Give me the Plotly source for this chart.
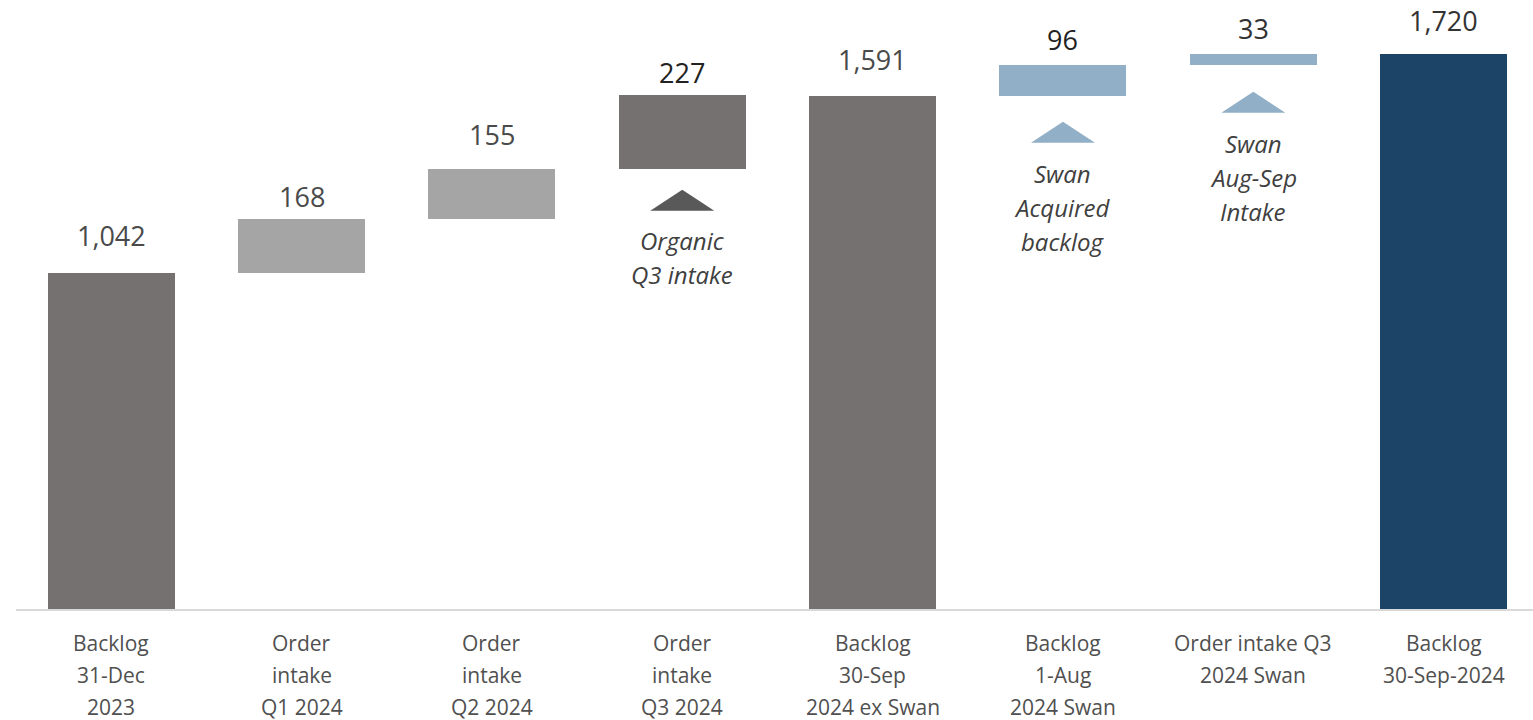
import plotly.graph_objects as go

# ---------------- data ----------------
categories = [
    "Backlog<br>31-Dec<br>2023",
    "Order<br>intake<br>Q1 2024",
    "Order<br>intake<br>Q2 2024",
    "Order<br>intake<br>Q3 2024",
    "Backlog<br>30-Sep<br>2024 ex Swan",
    "Backlog<br>1-Aug<br>2024 Swan",
    "Order intake Q3<br>2024 Swan",
    "Backlog<br>30-Sep-2024",
]
values = [1042, 168, 155, 227, 1591, 96, 33, 1720]
kinds = ["total", "delta", "delta", "delta", "total", "delta", "delta", "total"]
value_labels = ["1,042", "168", "155", "227", "1,591", "96", "33", "1,720"]

notes_index = [3, 5, 6]
notes_text = [
    ["Organic", "Q3 intake"],
    ["Swan", "Acquired", "backlog"],
    ["Swan", "Aug-Sep", "Intake"],
]

# ---------------- style ----------------
bar_colors = ["#757170", "#A5A5A5", "#A5A5A5", "#767171",
              "#757170", "#91AFC6", "#91AFC6", "#1B4466"]
label_colors = ["#4a4a4a", "#4a4a4a", "#4a4a4a", "#222222",
                "#4a4a4a", "#222222", "#333333", "#333333"]
label_gap = [37, 22, 34, 23, 36, 25, 26, 34]       # px from bar top to label centre
note_colors = ["#595959", "#91AFC6", "#91AFC6"]
note_tri_gap = [21, 26, 27]                          # px from bar bottom to triangle apex
note_text_gap = [72, 78, 79]                         # px from bar bottom to first text line
note_line_step = 34
cat_first = 34
cat_step = 32

W, H = 1533, 720
ML, MR, MT, MB = 16, 0, 0, 111
step_px = 190.36
x_max = -0.5 + (W - ML - MR) / step_px
y_max = 1888

# compute bases through cumulative running total
bases = []
running = 0
for v, k in zip(values, kinds):
    if k == "total":
        bases.append(0)
        running = v
    else:
        bases.append(running)
        running += v
heights = values[:]
tops = [b + h for b, h in zip(bases, heights)]

xs = list(range(len(categories)))

fig = go.Figure()
fig.add_trace(go.Bar(
    x=xs, y=heights, base=bases,
    marker=dict(color=bar_colors, line=dict(width=0)),
    width=0.667,
    hoverinfo="skip",
))

annotations = []
# value labels
for i in xs:
    annotations.append(dict(
        x=i, y=tops[i], xref="x", yref="y",
        text=value_labels[i], showarrow=False,
        yanchor="middle", yshift=label_gap[i],
        font=dict(family="Open Sans", size=27, color=label_colors[i]),
    ))

# category labels (line by line)
for i, cat in enumerate(categories):
    for j, line in enumerate(cat.split("<br>")):
        annotations.append(dict(
            x=i, y=0, xref="x", yref="y",
            text=line, showarrow=False,
            yanchor="middle", yshift=-(cat_first + cat_step * j),
            font=dict(family="Open Sans", size=21, color="#505050"),
        ))

shapes = []
for n, idx in enumerate(notes_index):
    g = note_tri_gap[n]
    shapes.append(dict(
        type="path",
        xref="x", yref="y",
        xsizemode="pixel", ysizemode="pixel",
        xanchor=idx, yanchor=bases[idx],
        path=f"M -32,{-(g + 21)} L 32,{-(g + 21)} L 0,{-g} Z",
        fillcolor=note_colors[n], line=dict(width=0),
    ))
    for j, line in enumerate(notes_text[n]):
        annotations.append(dict(
            x=idx, y=bases[idx], xref="x", yref="y",
            text=f"<i>{line}</i>", showarrow=False,
            yanchor="middle", yshift=-(note_text_gap[n] + note_line_step * j),
            font=dict(family="Open Sans", size=24, color="#404040"),
        ))

fig.update_layout(
    width=W, height=H,
    margin=dict(l=ML, r=MR, t=MT, b=MB, pad=0),
    paper_bgcolor="white", plot_bgcolor="white",
    showlegend=False,
    bargap=0,
    xaxis=dict(range=[-0.5, x_max], showgrid=False, zeroline=False,
               showticklabels=False, ticks="",
               showline=True, linecolor="#D9D9D9", linewidth=2),
    yaxis=dict(range=[0, y_max], showgrid=False, zeroline=False,
               showticklabels=False, ticks="", showline=False),
    annotations=annotations,
    shapes=shapes,
)

fig.write_html(
    "out.html",
    config={"displayModeBar": False},
    post_script="document.body.style.margin='0';document.body.style.overflow='hidden';",
)
